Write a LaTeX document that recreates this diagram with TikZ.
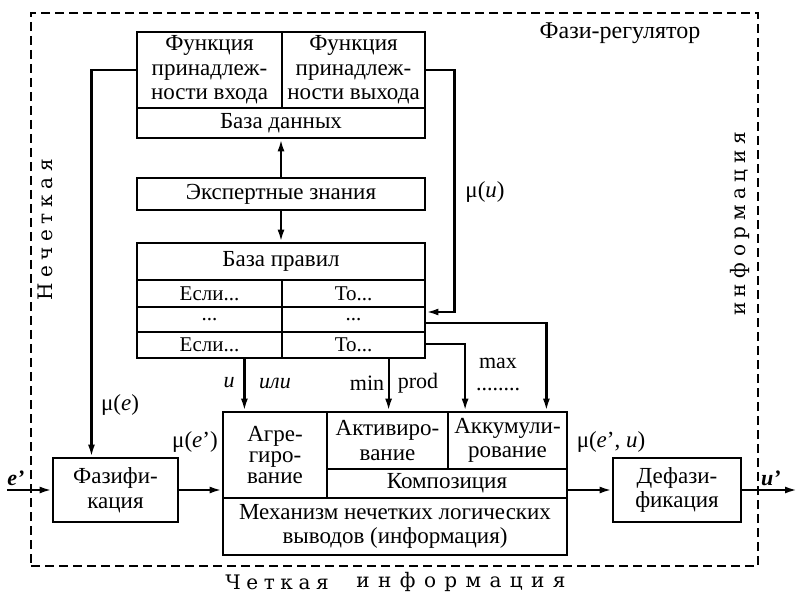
\documentclass[tikz,border=0pt]{standalone}
\usepackage{fontspec}
\setmainfont{Liberation Serif}
\newfontfamily\slabfont[LetterSpace=28]{DejaVu Serif}
\newfontfamily\slabwidefont[LetterSpace=42]{DejaVu Serif}
\usetikzlibrary{arrows.meta,calc}
\begin{document}
\begin{tikzpicture}[x=1pt,y=-1pt,
  box/.style={draw,line width=2.8pt,inner sep=0pt,align=center,
    font=\fontsize{23}{24.5}\selectfont},
  rowbox/.style={box,font=\fontsize{21}{22}\selectfont},
  lbl/.style={inner sep=0pt,font=\fontsize{23}{24}\selectfont},
  small/.style={inner sep=0pt,font=\fontsize{22}{24}\selectfont},
  arr/.style={line width=2.2pt,-{Latex[length=12pt,width=7pt]}},
  frame/.style={draw,line width=2pt,dash pattern=on 9pt off 5pt,inner sep=0pt},
  spaced/.style={inner sep=0pt,font=\slabfont\fontsize{20}{22}\selectfont},
  widespaced/.style={inner sep=0pt,font=\slabwidefont\fontsize{20}{22}\selectfont}
]
\useasboundingbox (0,0) rectangle (797,593);

% controller boundary
\node[frame,minimum width=727pt,minimum height=553pt] (ctrl) at (394.5,289.5) {};
\node[lbl,font=\fontsize{24}{26}\selectfont] (title) at (620,33) {Фази-регулятор};

% data base
\node[box,minimum width=145pt,minimum height=76pt] (fin) at (209.5,70)
  {Функция\\принадлеж-\\ности входа};
\node[box,minimum width=143pt,minimum height=76pt] (fout) at (353.5,70)
  {Функция\\принадлеж-\\ности выхода};
\node[box,minimum width=288pt,minimum height=30pt] (bd) at (281,123) {База данных};

% expert knowledge
\node[box,minimum width=288pt,minimum height=32pt] (ez) at (281,194) {Экспертные знания};

% rule base
\node[box,minimum width=288pt,minimum height=37pt] (brh) at (281,261.5) {База правил};
\node[rowbox,minimum width=145pt,minimum height=27pt] (r1a) at (209.5,293.5) {Если...};
\node[rowbox,minimum width=143pt,minimum height=27pt] (r1b) at (353.5,293.5) {То...};
\node[rowbox,minimum width=145pt,minimum height=25pt] (r2a) at (209.5,319.5) {...};
\node[rowbox,minimum width=143pt,minimum height=25pt] (r2b) at (353.5,319.5) {...};
\node[rowbox,minimum width=145pt,minimum height=26pt] (r3a) at (209.5,345) {Если...};
\node[rowbox,minimum width=143pt,minimum height=26pt] (r3b) at (353.5,345) {То...};

% inference engine
\node[box,minimum width=104pt,minimum height=86pt,font=\fontsize{23}{21}\selectfont] (agg) at (275,455) {Агре-\\гиро-\\вание};
\node[box,minimum width=121pt,minimum height=57pt] (act) at (387.5,440.5) {Активиро-\\вание};
\node[box,minimum width=119pt,minimum height=57pt] (acc) at (507.5,440.5) {Аккумули-\\рование};
\node[box,minimum width=240pt,minimum height=29pt] (comp) at (447,483.5) {Композиция};
\node[box,minimum width=344pt,minimum height=57pt] (mech) at (395,526.5)
  {Механизм нечетких логических\\выводов (информация)};

% fuzzification / defuzzification
\node[box,minimum width=125pt,minimum height=64pt] (fuz) at (115.5,490) {Фазифи-\\кация};
\node[box,minimum width=128pt,minimum height=64pt] (defuz) at (677,490) {Дефази-\\фикация};

% free ends of the input and output lines
\coordinate (ein) at (7,490);
\coordinate (uout) at (797,490);

% connectors
\draw[arr] (fin.west) -| ($(fuz.north west)!0.312!(fuz.north east)$);
\draw[arr] (fout.east) -- ++(28,0) |- ([yshift=7.5pt]r2b.east);
\draw[arr] (ez.north) -- (bd.south);
\draw[arr] (ez.south) -- (brh.north);
\draw[arr] ([xshift=-39pt]r3a.south east) -- ([xshift=-39pt]r3a.south east |- agg.north);
\draw[arr] ([xshift=108pt]r3b.south west) -- ([xshift=108pt]r3b.south west |- act.north);
\draw[arr] ([yshift=1pt]r3b.east) -| ([xshift=18.5pt]acc.north west);
\draw[arr] ([yshift=-3.5pt]r2b.east) -| ([xshift=-22pt]acc.north east);
\draw[arr] (ein) -- (fuz.west);
\draw[arr] (fuz.east) -- (fuz.east -| agg.west);
\draw[arr] (defuz.west -| comp.east) -- (defuz.west);
\draw[arr] (defuz.east) -- (uout);

% signal labels
\node[lbl] (lmu) at (485,192) {μ(\textit{u})};
\node[lbl] (lme) at (120,405) {μ(\textit{e})};
\node[lbl] (lmep) at (195,442) {μ(\textit{e}')};
\node[lbl] (lmeu) at (611,442) {μ(\textit{e}', \textit{u})};
\node[small] (land) at (229,383) {\textit{и}};
\node[small] (lor) at (275,383) {\textit{или}};
\node[small] (lmin) at (367,383) {min};
\node[small] (lprod) at (418,383) {prod};
\node[small] (lmax) at (498,363) {max};
\node[small] (ldots) at (498,390) {........};
\node[lbl,font=\fontsize{22}{24}\selectfont\bfseries\itshape] (le) at (16,478) {e'};
\node[lbl,font=\fontsize{22}{24}\selectfont\bfseries\itshape] (lu) at (771,478) {u'};

% kinds of information
\node[spaced,rotate=90] (fuzzyl) at (45,230) {Нечеткая};
\node[spaced,rotate=90] (fuzzyr) at (740,224) {информация};
\node[spaced] (crisp) at (277,582) {Четкая};
\node[widespaced] (crispinfo) at (461,582) {информация};
\end{tikzpicture}
\end{document}
